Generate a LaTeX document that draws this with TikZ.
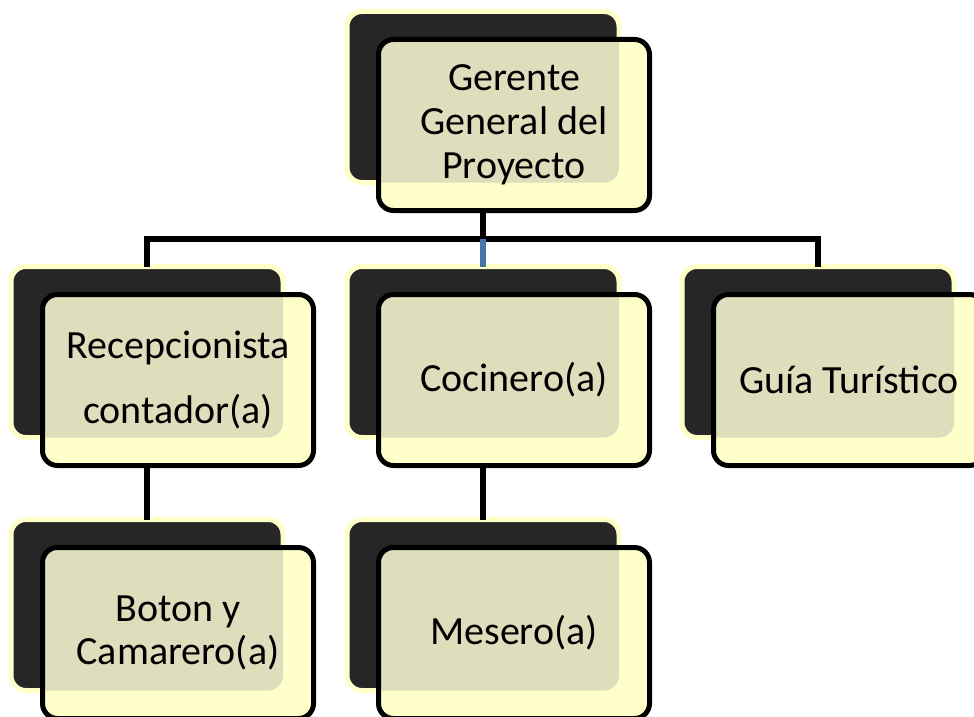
\documentclass[tikz,border=0pt]{standalone}
\usepackage{fontspec}
\setmainfont{Carlito}
\definecolor{boxyellow}{HTML}{FFFFCA}
\definecolor{glowyellow}{HTML}{FFFFC8}
\definecolor{overlapgray}{HTML}{DEDEBC}
\definecolor{shadowgray}{HTML}{262626}
\definecolor{linkblue}{HTML}{4A74A8}
\tikzset{
	backbox/.style={draw=glowyellow,fill=shadowgray,line width=5pt,rounded corners=15pt,minimum width=272pt,minimum height=171pt,inner sep=0pt,outer sep=0pt},
	frontbox/.style={fill=boxyellow,rounded corners=15pt,minimum width=271pt,minimum height=171pt,inner sep=0pt,outer sep=0pt},
	frontline/.style={draw=black,line width=5pt,rounded corners=15pt},
	boxtext/.style={align=center,font=\fontsize{40}{44}\selectfont},
	link/.style={line width=5.5pt,draw=black},
}
% #1 name, #2 x, #3 y, #4 text style, #5 text
\newcommand{\orgbox}[5]{
	\node[backbox] (#1b) at ([shift={(-31,-28)}]#2,#3) {};
	\node[frontbox] (#1) at (#2,#3) {};
	\begin{scope}
		\clip[rounded corners=15pt] (#1b.south west) rectangle (#1b.north east);
		\fill[overlapgray,rounded corners=15pt] (#1.south west) rectangle (#1.north east);
	\end{scope}
	\draw[frontline] (#1.south west) rectangle (#1.north east);
	\node[boxtext,#4] (#1t) at (#1) {#5};
}
\begin{document}
\begin{tikzpicture}[x=1pt,y=-1pt]
	\useasboundingbox (0,0) rectangle (974,717);
	\clip (0,0) rectangle (974,717);
	\fill[white] (0,0) rectangle (974,717);
	
	\orgbox{chief}{514}{125}{}{Gerente\\General del\\Proyecto}
	
	\orgbox{recep}{178}{380}{font=\fontsize{40}{65}\selectfont}{Recepcionista\\contador(a)}
	\orgbox{cook}{514}{380}{}{Cocinero(a)}
	\orgbox{guide}{849}{380}{}{Guía Turístico}
	
	\orgbox{bell}{178}{633}{font=\fontsize{40}{43}\selectfont}{Boton y\\Camarero(a)}
	\orgbox{waiter}{514}{633}{}{Mesero(a)}
	
	\coordinate (bus) at (483,239);
	\draw[link] (chief.south -| chiefb.center) -- (bus);
	\draw[link] (recepb.north) |- (bus) -| (guideb.north);
	\draw[link,draw=linkblue] (bus) -- (cookb.north);
	\draw[link] (recep.south -| recepb.center) -- (bellb.north);
	\draw[link] (cook.south -| cookb.center) -- (waiterb.north);
\end{tikzpicture}
\end{document}
